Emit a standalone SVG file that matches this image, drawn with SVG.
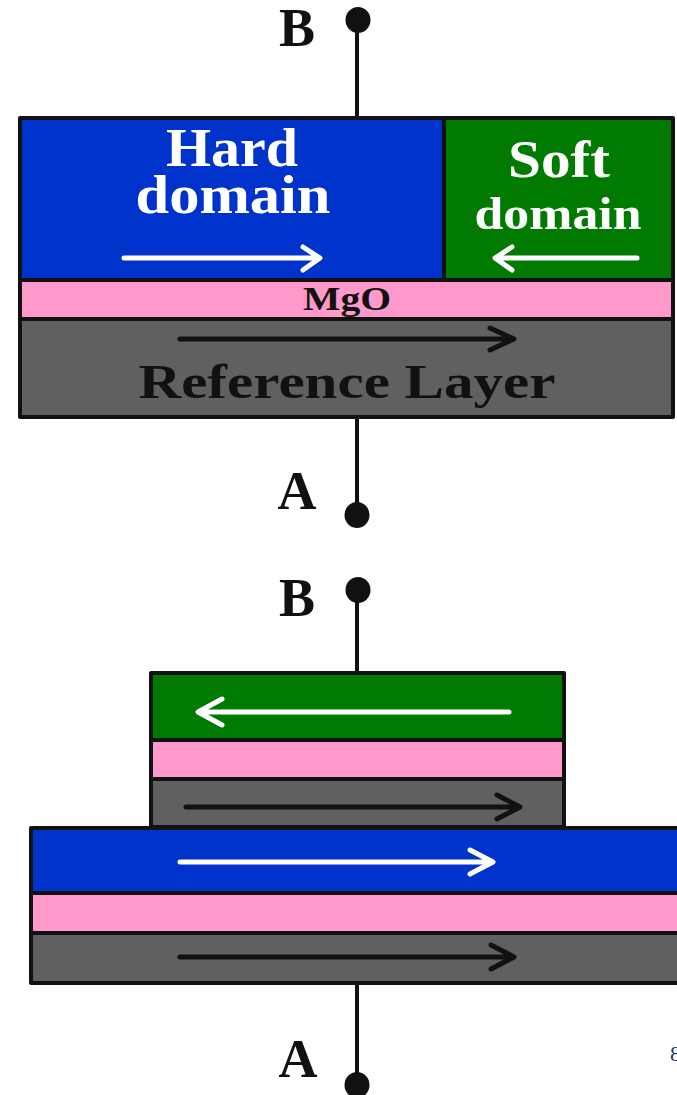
<svg xmlns="http://www.w3.org/2000/svg" width="677" height="1095" viewBox="0 0 677 1095">
<style>
.lay{stroke:#111;stroke-width:4;stroke-linejoin:round}
.blue{fill:#0033cc}.green{fill:#007a00}.pink{fill:#ff99cc}.gray{fill:#606060}
.wire{stroke:#111;stroke-width:4;fill:none}
.dot{fill:#111}
.wa{stroke:#fff;stroke-width:5;fill:none;stroke-linecap:round;stroke-linejoin:round}
.ba{stroke:#111;stroke-width:5;fill:none;stroke-linecap:round;stroke-linejoin:round}
.t{font-family:"Liberation Serif","Times New Roman",serif;font-weight:bold;text-anchor:middle}
</style>
<rect width="677" height="1095" fill="#fff"/>
<g id="connectors">
<line class="wire" x1="357" y1="30" x2="357" y2="118"/>
<line class="wire" x1="357" y1="417" x2="357" y2="505"/>
<line class="wire" x1="357" y1="600" x2="357" y2="672"/>
<line class="wire" x1="357" y1="983" x2="357" y2="1075"/>
</g>
<g id="terminal-B-top">
<ellipse class="dot" cx="358" cy="20" rx="12.5" ry="13"/>
<text class="t" x="297" y="46" font-size="54" fill="#111">B</text>
</g>
<g id="terminal-A-top">
<ellipse class="dot" cx="357" cy="515" rx="12.5" ry="13"/>
<text class="t" x="297" y="509" font-size="54" fill="#111">A</text>
</g>
<g id="top-stack">
<rect class="lay blue" x="20" y="118" width="424" height="162"/>
<rect class="lay green" x="444" y="118" width="229" height="162"/>
<rect class="lay pink" x="20" y="280" width="653" height="39"/>
<rect class="lay gray" x="20" y="319" width="653" height="98"/>
<text class="t" x="232" y="166" font-size="54" fill="#fff" textLength="132" lengthAdjust="spacingAndGlyphs">Hard</text>
<text class="t" x="233" y="213" font-size="54" fill="#fff" textLength="195" lengthAdjust="spacingAndGlyphs">domain</text>
<text class="t" x="559" y="177" font-size="53" fill="#fff" textLength="102" lengthAdjust="spacingAndGlyphs">Soft</text>
<text class="t" x="558" y="229" font-size="46" fill="#fff" textLength="167" lengthAdjust="spacingAndGlyphs">domain</text>
<text class="t" x="347" y="310" font-size="33" fill="#111" textLength="88" lengthAdjust="spacingAndGlyphs">MgO</text>
<text class="t" x="347" y="398" font-size="48" fill="#111" textLength="417" lengthAdjust="spacingAndGlyphs">Reference Layer</text>
<path class="wa" d="M124 258H319M303 247L320 258L303 270"/>
<path class="wa" d="M637 258H496M512 247L495 258L512 270"/>
<path class="ba" d="M180 339H513M490 328L514 339L490 350"/>
</g>
<g id="terminal-B-bottom">
<ellipse class="dot" cx="358" cy="590" rx="12.5" ry="13"/>
<text class="t" x="297" y="616" font-size="54" fill="#111">B</text>
</g>
<g id="free-stack">
<rect class="lay green" x="151" y="673" width="413" height="67"/>
<rect class="lay pink" x="151" y="740" width="413" height="39"/>
<rect class="lay gray" x="151" y="779" width="413" height="48"/>
<path class="wa" d="M509 712H199M222 699L198 712L222 725"/>
<path class="ba" d="M186 807H519M497 795L520 807L497 819"/>
</g>
<g id="ref-stack">
<rect class="lay blue" x="31" y="828" width="660" height="65"/>
<rect class="lay pink" x="31" y="893" width="660" height="40"/>
<rect class="lay gray" x="31" y="933" width="660" height="50"/>
<path class="wa" d="M180 862H492M470 850L493 862L470 874"/>
<path class="ba" d="M180 957H513M491 945L514 957L491 969"/>
</g>
<g id="terminal-A-bottom">
<ellipse class="dot" cx="357" cy="1085" rx="12.5" ry="13"/>
<text class="t" x="298" y="1077" font-size="54" fill="#111">A</text>
</g>
<text x="670" y="1061" font-family="'Liberation Serif',serif" font-size="22" fill="#1f3864">8</text>
</svg>
